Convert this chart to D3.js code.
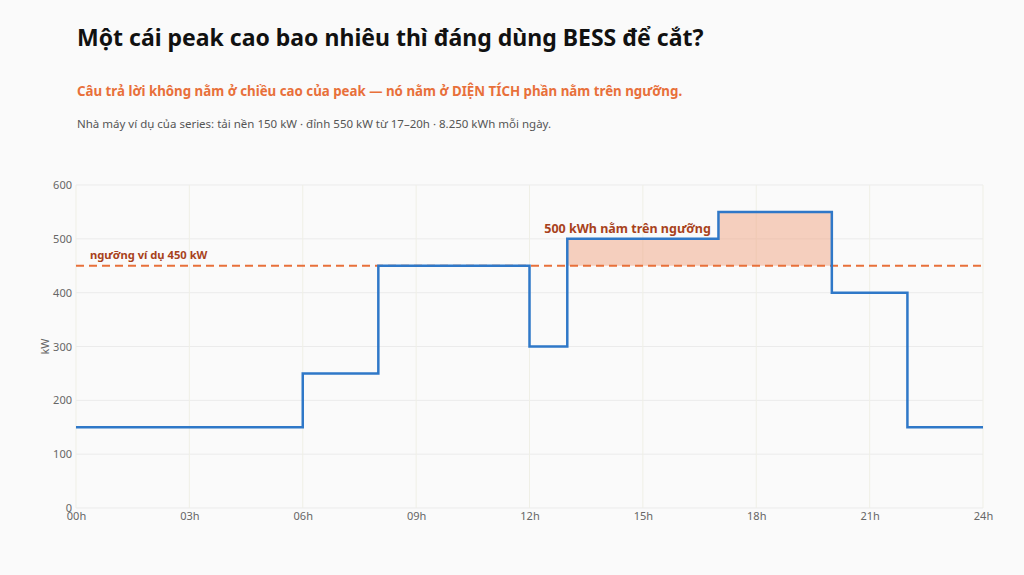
<!DOCTYPE html>
<html>
<head>
<meta charset="utf-8">
<script src="https://cdn.jsdelivr.net/npm/d3@7"></script>
<style>
  html, body { margin: 0; padding: 0; background: #fafafa; }
  svg { display: block; font-family: "Noto Sans", "Open Sans", sans-serif; }
</style>
</head>
<body>
<svg id="chart" width="1024" height="575"></svg>
<script>
// du lieu tai theo gio (bac thang)
var hours = [0, 6, 8, 12, 13, 17, 20, 22, 24];
var loadKw = [150, 250, 450, 300, 500, 550, 400, 150];
var threshold = 450;
var xTicks = [0, 3, 6, 9, 12, 15, 18, 21, 24];
var yTicks = [0, 100, 200, 300, 400, 500, 600];

var svg = d3.select("#chart");
var plotL = 76, plotR = 983, plotT = 185, plotB = 508;

var x = d3.scaleLinear().domain([0, 24]).range([plotL, plotR]);
var y = d3.scaleLinear().domain([0, 600]).range([plotB, plotT]);

// cac diem cho duong bac thang
var pts = loadKw.map(function(d, i) { return { h: hours[i], v: d }; });
pts.push({ h: 24, v: loadKw[loadKw.length - 1] });

// luoi
svg.append("g")
    .selectAll("line")
    .data(yTicks)
    .enter()
    .append("line")
    .attr("x1", plotL).attr("x2", plotR)
    .attr("y1", function(d) { return y(d); })
    .attr("y2", function(d) { return y(d); })
    .attr("stroke", "#ebebeb")
    .attr("stroke-width", 1);

svg.append("g")
    .selectAll("line")
    .data(xTicks)
    .enter()
    .append("line")
    .attr("y1", plotT).attr("y2", plotB)
    .attr("x1", function(d) { return x(d); })
    .attr("x2", function(d) { return x(d); })
    .attr("stroke", "#efefe6")
    .attr("stroke-width", 1);

// truc
var yAxis = svg.append("g")
    .attr("transform", "translate(" + plotL + ",0)")
    .call(d3.axisLeft(y).tickValues(yTicks).tickSize(0).tickPadding(4));
var xAxis = svg.append("g")
    .attr("transform", "translate(0," + plotB + ")")
    .call(d3.axisBottom(x).tickValues(xTicks).tickSize(0).tickPadding(4)
        .tickFormat(function(d) { return (d < 10 ? "0" : "") + d + "h"; }));
[yAxis, xAxis].forEach(function(a) {
    a.select(".domain").remove();
    a.selectAll("text").attr("fill", "#666").style("font-size", "11px")
        .style("font-family", "'Noto Sans', sans-serif");
});

svg.append("text")
    .attr("transform", "translate(49," + y(300) + ") rotate(-90)")
    .attr("text-anchor", "middle")
    .attr("fill", "#666")
    .style("font-size", "11px")
    .text("kW");

// vung tren nguong (13h-20h)
var area = d3.area()
    .curve(d3.curveStepAfter)
    .x(function(d) { return x(d.h); })
    .y0(y(threshold))
    .y1(function(d) { return y(Math.max(d.v, threshold)); });
svg.append("path")
    .datum(pts.filter(function(p) { return p.h >= 13 && p.h <= 20; }))
    .attr("d", area)
    .attr("fill", "#f0a382")
    .attr("fill-opacity", 0.5);

// duong nguong
svg.append("line")
    .attr("x1", plotL).attr("x2", plotR)
    .attr("y1", y(threshold)).attr("y2", y(threshold))
    .attr("stroke", "#e8703a")
    .attr("stroke-width", 2)
    .attr("stroke-dasharray", "8,5");

// duong tai
var line = d3.line()
    .curve(d3.curveStepAfter)
    .x(function(d) { return x(d.h); })
    .y(function(d) { return y(d.v); });
svg.append("path")
    .datum(pts)
    .attr("d", line)
    .attr("fill", "none")
    .attr("stroke", "#2f78c8")
    .attr("stroke-width", 2.5);

// chu thich
svg.append("text")
    .attr("x", x(0.37)).attr("y", y(threshold) - 7)
    .attr("fill", "#a8421c")
    .style("font-size", "11.2px").style("font-weight", "bold")
    .text("ngưỡng ví dụ " + threshold + " kW");

svg.append("text")
    .attr("x", x(16.8)).attr("y", y(520) + 5)
    .attr("text-anchor", "end")
    .attr("fill", "#a8421c")
    .style("font-size", "12.5px").style("font-weight", "bold")
    .text("500 kWh nằm trên ngưỡng");

// tieu de
svg.append("text")
    .attr("x", 77).attr("y", 46)
    .attr("fill", "#111")
    .style("font-size", "23px").style("font-weight", "bold")
    .text("Một cái peak cao bao nhiêu thì đáng dùng BESS để cắt?");

svg.append("text")
    .attr("x", 77).attr("y", 96)
    .attr("fill", "#e8703a")
    .style("font-size", "13.3px").style("font-weight", "bold")
    .text("Câu trả lời không nằm ở chiều cao của peak — nó nằm ở DIỆN TÍCH phần nằm trên ngưỡng.");

svg.append("text")
    .attr("x", 77).attr("y", 128)
    .attr("fill", "#555")
    .style("font-size", "11.5px")
    .text("Nhà máy ví dụ của series: tải nền 150 kW · đỉnh 550 kW từ 17–20h · 8.250 kWh mỗi ngày.");
</script>
</body>
</html>
